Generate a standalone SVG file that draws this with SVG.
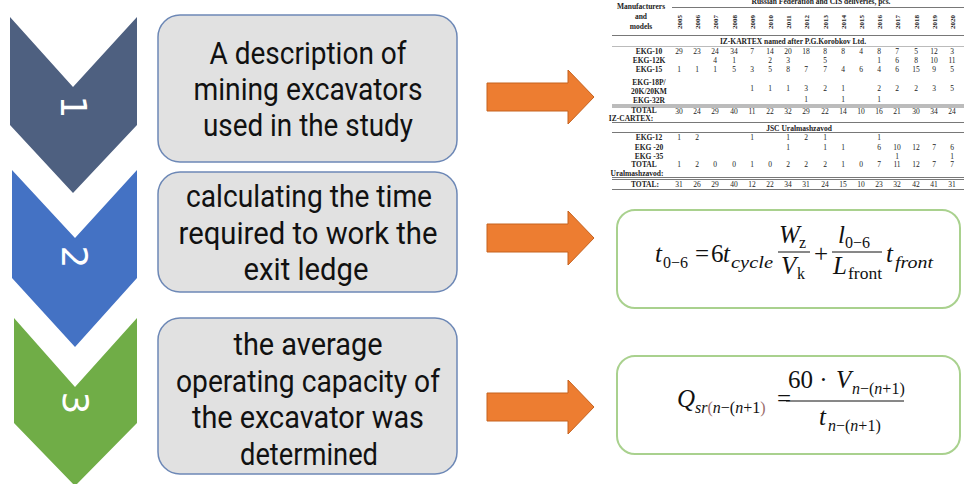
<svg xmlns="http://www.w3.org/2000/svg" width="964" height="484" viewBox="0 0 964 484">
  <style>
    .step-txt{font-family:Roboto,"Liberation Sans",sans-serif;font-size:31px;fill:#111;text-anchor:middle}
    .num{font-family:"DejaVu Sans",sans-serif;font-size:36px;fill:#fff;text-anchor:middle;dominant-baseline:central}
    .box{fill:#e1e1e1;stroke:#6d88b6;stroke-width:1.5}
    .arrow{fill:#ed7d31;stroke:#c5621f;stroke-width:1}
    .fbox{fill:#fff;stroke:#a9d18e;stroke-width:2}
    .m{font-family:"Liberation Serif","DejaVu Serif",serif;font-size:25px;fill:#111}
    .i{font-style:italic}
    .sub{font-size:16px}
    .bar{stroke:#111;stroke-width:1}
    .tb{font-family:"Liberation Serif","Times New Roman",serif;font-size:7.5px;fill:#222}
    .v{text-anchor:middle}
    .b{font-weight:bold}
    .rule{stroke:#555;stroke-width:0.8;fill:none}
  </style>

  <!-- step chevrons -->
  <g id="step1-chevron">
    <polygon points="10,17 73,87 137,17 137,125 73,193 10,125" fill="#4e6080"/>
    <text class="num" transform="translate(73,107) rotate(90)">1</text>
  </g>
  <g id="step2-chevron">
    <polygon points="12,170 75,238 137,170 137,278 75,347 12,278" fill="#4472c4"/>
    <text class="num" transform="translate(74,257) rotate(90)">2</text>
  </g>
  <g id="step3-chevron">
    <polygon points="14,318 75,387 137,318 137,423 75,486 14,423" fill="#70ad47"/>
    <text class="num" transform="translate(75,403) rotate(90)">3</text>
  </g>

  <!-- step descriptions -->
  <g id="step1-box">
    <rect class="box" x="158" y="15" width="299" height="147" rx="22"/>
    <text class="step-txt" x="308" y="64" textLength="197" lengthAdjust="spacingAndGlyphs">A description of</text>
    <text class="step-txt" x="308" y="100" textLength="229" lengthAdjust="spacingAndGlyphs">mining excavators</text>
    <text class="step-txt" x="308" y="136" textLength="210" lengthAdjust="spacingAndGlyphs">used in the study</text>
  </g>
  <g id="step2-box">
    <rect class="box" x="158" y="172" width="299" height="120" rx="22"/>
    <text class="step-txt" x="309" y="207" textLength="246" lengthAdjust="spacingAndGlyphs">calculating the time</text>
    <text class="step-txt" x="308" y="244" textLength="259" lengthAdjust="spacingAndGlyphs">required to work the</text>
    <text class="step-txt" x="306" y="280" textLength="125" lengthAdjust="spacingAndGlyphs">exit ledge</text>
  </g>
  <g id="step3-box">
    <rect class="box" x="158" y="318" width="299" height="156" rx="22"/>
    <text class="step-txt" x="308" y="355" textLength="149" lengthAdjust="spacingAndGlyphs">the average</text>
    <text class="step-txt" x="308" y="392" textLength="264" lengthAdjust="spacingAndGlyphs">operating capacity of</text>
    <text class="step-txt" x="308" y="428" textLength="232" lengthAdjust="spacingAndGlyphs">the excavator was</text>
    <text class="step-txt" x="309" y="465" textLength="138" lengthAdjust="spacingAndGlyphs">determined</text>
  </g>

  <!-- connectors -->
  <g id="connectors">
    <polygon class="arrow" points="487,83 568,83 568,70 594,97 568,124 568,111 487,111"/>
    <polygon class="arrow" points="487,224 568,224 568,211 594,238 568,265 568,252 487,252"/>
    <polygon class="arrow" points="487,393 568,393 568,380 594,407 568,434 568,421 487,421"/>
  </g>

  <!-- deliveries table -->
  <g id="deliveries-table" class="tb">
    <text class="b v" x="821" y="4">Russian Federation and CIS deliveries, pcs.</text>
    <line class="rule" x1="672" y1="7.5" x2="964" y2="7.5"/>
    <text class="b v" x="641" y="9">Manufacturers</text>
    <text class="b v" x="641" y="19">and</text>
    <text class="b v" x="641" y="29">models</text>
    <g class="b v" font-size="7">
      <text transform="translate(681.5,22) rotate(-90)">2005</text>
      <text transform="translate(699.5,22) rotate(-90)">2006</text>
      <text transform="translate(717.5,22) rotate(-90)">2007</text>
      <text transform="translate(736.5,22) rotate(-90)">2008</text>
      <text transform="translate(754.5,22) rotate(-90)">2009</text>
      <text transform="translate(772.5,22) rotate(-90)">2010</text>
      <text transform="translate(790.5,22) rotate(-90)">2011</text>
      <text transform="translate(808.5,22) rotate(-90)">2012</text>
      <text transform="translate(827.5,22) rotate(-90)">2013</text>
      <text transform="translate(845.5,22) rotate(-90)">2014</text>
      <text transform="translate(863.5,22) rotate(-90)">2015</text>
      <text transform="translate(881.5,22) rotate(-90)">2016</text>
      <text transform="translate(899.5,22) rotate(-90)">2017</text>
      <text transform="translate(918.5,22) rotate(-90)">2018</text>
      <text transform="translate(936.5,22) rotate(-90)">2019</text>
      <text transform="translate(954.5,22) rotate(-90)">2020</text>
    </g>
    <line class="rule" x1="612" y1="35.5" x2="964" y2="35.5"/>
    <text class="b v" x="793" y="44">IZ-KARTEX named after P.G.Korobkov Ltd.</text>
    <line class="rule" x1="612" y1="46.5" x2="964" y2="46.5" stroke-opacity="0.5"/>

    <!-- row labels -->
    <g class="b v">
      <text x="649" y="54">EKG-10</text>
      <text x="649" y="63">EKG-12K</text>
      <text x="649" y="72">EKG-15</text>
      <text x="649" y="85">EKG-18P/</text>
      <text x="649" y="94">20K/20KM</text>
      <text x="649" y="103">EKG-32R</text>
      <text x="644" y="113">TOTAL</text>
      <text x="631" y="121">IZ-CARTEX:</text>
      <text x="649" y="140">EKG-12</text>
      <text x="649" y="149.5">EKG -20</text>
      <text x="649" y="158.5">EKG -35</text>
      <text x="644" y="167">TOTAL</text>
      <text x="637" y="176">Uralmashzavod:</text>
      <text x="645" y="187">TOTAL:</text>
    </g>

    <!-- IZ-KARTEX rows -->
    <text class="v" y="54"><tspan x="679">29</tspan><tspan x="697">23</tspan><tspan x="715">24</tspan><tspan x="734">34</tspan><tspan x="752">7</tspan><tspan x="770">14</tspan><tspan x="788">20</tspan><tspan x="806">18</tspan><tspan x="825">8</tspan><tspan x="843">8</tspan><tspan x="861">4</tspan><tspan x="879">8</tspan><tspan x="897">7</tspan><tspan x="916">5</tspan><tspan x="934">12</tspan><tspan x="952">3</tspan></text>
    <text class="v" y="63"><tspan x="715">4</tspan><tspan x="734">1</tspan><tspan x="770">2</tspan><tspan x="788">3</tspan><tspan x="825">5</tspan><tspan x="879">1</tspan><tspan x="897">6</tspan><tspan x="916">8</tspan><tspan x="934">10</tspan><tspan x="952">11</tspan></text>
    <text class="v" y="72"><tspan x="679">1</tspan><tspan x="697">1</tspan><tspan x="715">1</tspan><tspan x="734">5</tspan><tspan x="752">3</tspan><tspan x="770">5</tspan><tspan x="788">8</tspan><tspan x="806">7</tspan><tspan x="825">7</tspan><tspan x="843">4</tspan><tspan x="861">6</tspan><tspan x="879">4</tspan><tspan x="897">6</tspan><tspan x="916">15</tspan><tspan x="934">9</tspan><tspan x="952">5</tspan></text>
    <text class="v" y="91"><tspan x="752">1</tspan><tspan x="770">1</tspan><tspan x="788">1</tspan><tspan x="806">3</tspan><tspan x="825">2</tspan><tspan x="843">1</tspan><tspan x="879">2</tspan><tspan x="897">2</tspan><tspan x="916">2</tspan><tspan x="934">3</tspan><tspan x="952">5</tspan></text>
    <text class="v" y="102"><tspan x="806">1</tspan><tspan x="843">1</tspan><tspan x="879">1</tspan></text>
    <line class="rule" x1="612" y1="105" x2="964" y2="105"/>
    <line class="rule" x1="612" y1="107" x2="964" y2="107"/>
    <text class="v" y="114"><tspan x="679">30</tspan><tspan x="697">24</tspan><tspan x="715">29</tspan><tspan x="734">40</tspan><tspan x="752">11</tspan><tspan x="770">22</tspan><tspan x="788">32</tspan><tspan x="806">29</tspan><tspan x="825">22</tspan><tspan x="843">14</tspan><tspan x="861">10</tspan><tspan x="879">16</tspan><tspan x="897">21</tspan><tspan x="916">30</tspan><tspan x="934">34</tspan><tspan x="952">24</tspan></text>
    <line class="rule" x1="612" y1="122.5" x2="964" y2="122.5"/>

    <!-- Uralmashzavod rows -->
    <text class="b v" x="799" y="130.5">JSC Uralmashzavod</text>
    <line class="rule" x1="612" y1="132.5" x2="964" y2="132.5"/>
    <text class="v" y="140"><tspan x="679">1</tspan><tspan x="697">2</tspan><tspan x="752">1</tspan><tspan x="788">1</tspan><tspan x="806">2</tspan><tspan x="825">1</tspan><tspan x="879">1</tspan></text>
    <text class="v" y="149.5"><tspan x="788">1</tspan><tspan x="825">1</tspan><tspan x="843">1</tspan><tspan x="879">6</tspan><tspan x="897">10</tspan><tspan x="916">12</tspan><tspan x="934">7</tspan><tspan x="952">6</tspan></text>
    <text class="v" y="158.5"><tspan x="897">1</tspan><tspan x="952">1</tspan></text>
    <text class="v" y="167"><tspan x="679">1</tspan><tspan x="697">2</tspan><tspan x="715">0</tspan><tspan x="734">0</tspan><tspan x="752">1</tspan><tspan x="770">0</tspan><tspan x="788">2</tspan><tspan x="806">2</tspan><tspan x="825">2</tspan><tspan x="843">1</tspan><tspan x="861">0</tspan><tspan x="879">7</tspan><tspan x="897">11</tspan><tspan x="916">12</tspan><tspan x="934">7</tspan><tspan x="952">7</tspan></text>
    <line class="rule" x1="612" y1="177.5" x2="964" y2="177.5"/>
    <line class="rule" x1="612" y1="179.5" x2="964" y2="179.5"/>
    <text class="v" y="187"><tspan x="679">31</tspan><tspan x="697">26</tspan><tspan x="715">29</tspan><tspan x="734">40</tspan><tspan x="752">12</tspan><tspan x="770">22</tspan><tspan x="788">34</tspan><tspan x="806">31</tspan><tspan x="825">24</tspan><tspan x="843">15</tspan><tspan x="861">10</tspan><tspan x="879">23</tspan><tspan x="897">32</tspan><tspan x="916">42</tspan><tspan x="934">41</tspan><tspan x="952">31</tspan></text>
    <line class="rule" x1="612" y1="189.5" x2="964" y2="189.5"/>
  </g>

  <!-- time to work the exit ledge -->
  <g id="formula-time">
    <rect class="fbox" x="617" y="210" width="343" height="98" rx="18"/>
    <text class="m i" x="655" y="262">t</text>
    <text class="m sub" x="663" y="268">0−6</text>
    <text class="m" x="695" y="262">=</text>
    <text class="m" x="711" y="262">6</text>
    <text class="m i" x="723" y="262">t</text>
    <text class="m sub i" x="731" y="268" textLength="42" lengthAdjust="spacingAndGlyphs">cycle</text>
    <text class="m i" x="779" y="243">W</text>
    <text class="m sub" x="799" y="248">z</text>
    <line class="bar" x1="778" y1="252" x2="810" y2="252"/>
    <text class="m i" x="781" y="274">V</text>
    <text class="m sub" x="797" y="279">k</text>
    <text class="m" x="814" y="262">+</text>
    <text class="m i" x="838" y="243">l</text>
    <text class="m sub" x="845" y="248">0−6</text>
    <line class="bar" x1="832" y1="252" x2="882" y2="252"/>
    <text class="m i" x="833" y="274">L</text>
    <text class="m sub" x="848" y="279" textLength="34" lengthAdjust="spacingAndGlyphs">front</text>
    <text class="m i" x="886" y="262">t</text>
    <text class="m sub i" x="895" y="268" textLength="38" lengthAdjust="spacingAndGlyphs">front</text>
  </g>

  <!-- average operating capacity -->
  <g id="formula-capacity">
    <rect class="fbox" x="617" y="356" width="343" height="98" rx="18"/>
    <text class="m i" x="677" y="407">Q</text>
    <text class="m sub" x="695" y="413"><tspan font-style="italic">sr</tspan><tspan fill="#9b6b6b">(</tspan><tspan font-style="italic">n</tspan>−(<tspan font-style="italic">n</tspan>+1<tspan fill="#9b6b6b">)</tspan></text>
    <text class="m" x="777" y="407">=</text>
    <text class="m" x="788" y="388">60 ·</text>
    <text class="m i" x="836" y="388">V</text>
    <text class="m sub" x="852" y="394"><tspan font-style="italic">n</tspan>−(<tspan font-style="italic">n</tspan>+1)</text>
    <line class="bar" x1="786" y1="401" x2="904" y2="401"/>
    <text class="m i" x="819" y="425">t</text>
    <text class="m sub" x="828" y="431"><tspan font-style="italic">n</tspan>−(<tspan font-style="italic">n</tspan>+1)</text>
  </g>
</svg>
